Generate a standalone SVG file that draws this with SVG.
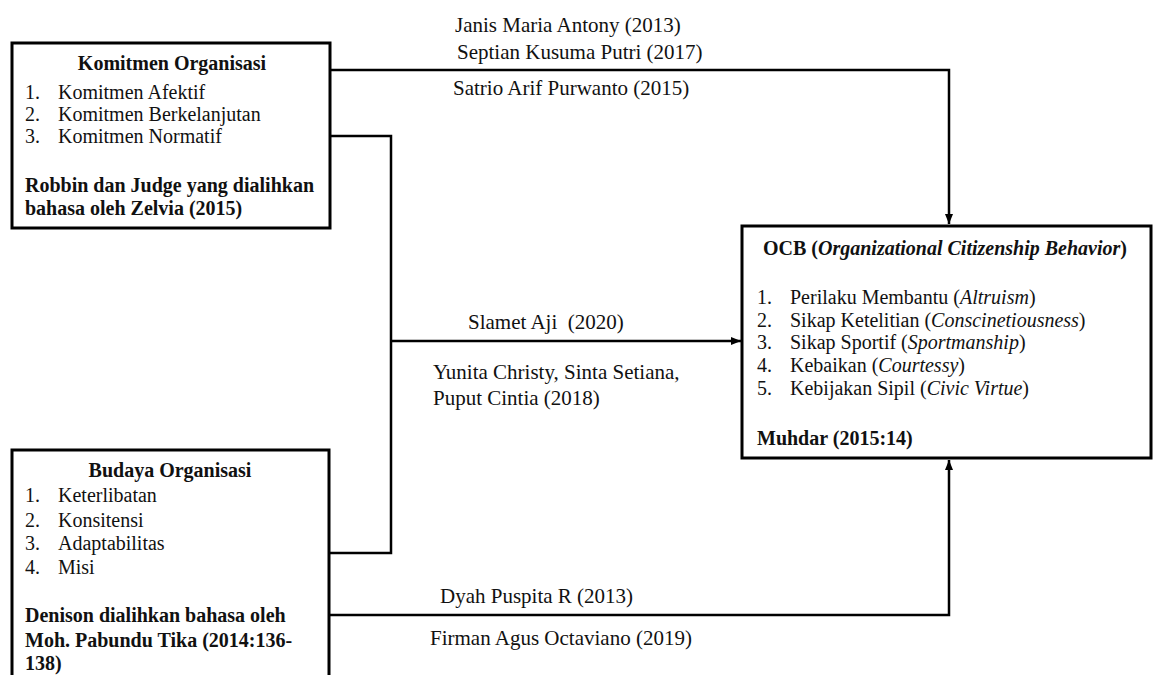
<svg xmlns="http://www.w3.org/2000/svg" width="1153" height="675" viewBox="0 0 1153 675">
<defs>
<marker id="arr" markerWidth="10" markerHeight="8" refX="10" refY="4" orient="auto" markerUnits="userSpaceOnUse">
<path d="M0,0 L10,4 L0,8 Z" fill="#000"/>
</marker>
<style>
.box{fill:#fff;stroke:#000;stroke-width:3}
.t{font-family:'Liberation Serif','Times New Roman',serif;font-size:20px;fill:#111}
.b{font-weight:700}
.lb{font-family:'Liberation Serif','Times New Roman',serif;font-size:21px;fill:#111}
.c{fill:none;stroke:#000;stroke-width:2.5}
</style>
</defs>
<rect width="1153" height="675" fill="#fff"/>
<g id="connectors">
<path class="c" d="M330,70 H949 V224" marker-end="url(#arr)"/>
<path class="c" d="M330,136 H391 V553 H329"/>
<path class="c" d="M391,341 H741" marker-end="url(#arr)"/>
<path class="c" d="M329,615 H949 V460" marker-end="url(#arr)"/>
</g>
<g id="labels">
<text class="lb" x="455" y="32">Janis Maria Antony (2013)</text>
<text class="lb" x="457" y="59">Septian Kusuma Putri (2017)</text>
<text class="lb" x="453" y="95">Satrio Arif Purwanto (2015)</text>
<text class="lb" x="468" y="329" xml:space="preserve">Slamet Aji  (2020)</text>
<text class="lb" x="433" y="379">Yunita Christy, Sinta Setiana,</text>
<text class="lb" x="433" y="405">Puput Cintia (2018)</text>
<text class="lb" x="440" y="603">Dyah Puspita R (2013)</text>
<text class="lb" x="430" y="645">Firman Agus Octaviano (2019)</text>
</g>
<g id="komitmen">
<rect class="box" x="12" y="43" width="318" height="185"/>
<text class="t b" x="172" y="70" text-anchor="middle">Komitmen Organisasi</text>
<text class="t" x="25" y="99">1.</text><text class="t" x="58" y="99">Komitmen Afektif</text>
<text class="t" x="25" y="121">2.</text><text class="t" x="58" y="121">Komitmen Berkelanjutan</text>
<text class="t" x="25" y="143">3.</text><text class="t" x="58" y="143">Komitmen Normatif</text>
<text class="t b" x="25" y="192">Robbin dan Judge yang dialihkan</text>
<text class="t b" x="25" y="215">bahasa oleh Zelvia (2015)</text>
</g>
<g id="budaya">
<rect class="box" x="12" y="450" width="317" height="240"/>
<text class="t b" x="170" y="477" text-anchor="middle">Budaya Organisasi</text>
<text class="t" x="25" y="502">1.</text><text class="t" x="58" y="502">Keterlibatan</text>
<text class="t" x="25" y="527">2.</text><text class="t" x="58" y="527">Konsitensi</text>
<text class="t" x="25" y="550">3.</text><text class="t" x="58" y="550">Adaptabilitas</text>
<text class="t" x="25" y="574">4.</text><text class="t" x="58" y="574">Misi</text>
<text class="t b" x="25" y="622">Denison dialihkan bahasa oleh</text>
<text class="t b" x="25" y="647">Moh. Pabundu Tika (2014:136-</text>
<text class="t b" x="25" y="670">138)</text>
</g>
<g id="ocb">
<rect class="box" x="742" y="226" width="409" height="232"/>
<text class="t b" x="945" y="255" text-anchor="middle">OCB (<tspan font-style="italic">Organizational Citizenship Behavior</tspan>)</text>
<text class="t" x="757" y="304">1.</text><text class="t" x="790" y="304">Perilaku Membantu (<tspan font-style="italic">Altruism</tspan>)</text>
<text class="t" x="757" y="327">2.</text><text class="t" x="790" y="327">Sikap Ketelitian (<tspan font-style="italic">Conscinetiousness</tspan>)</text>
<text class="t" x="757" y="349">3.</text><text class="t" x="790" y="349">Sikap Sportif (<tspan font-style="italic">Sportmanship</tspan>)</text>
<text class="t" x="757" y="372">4.</text><text class="t" x="790" y="372">Kebaikan (<tspan font-style="italic">Courtessy</tspan>)</text>
<text class="t" x="757" y="395">5.</text><text class="t" x="790" y="395">Kebijakan Sipil (<tspan font-style="italic">Civic Virtue</tspan>)</text>
<text class="t b" x="757" y="445">Muhdar (2015:14)</text>
</g>
</svg>
